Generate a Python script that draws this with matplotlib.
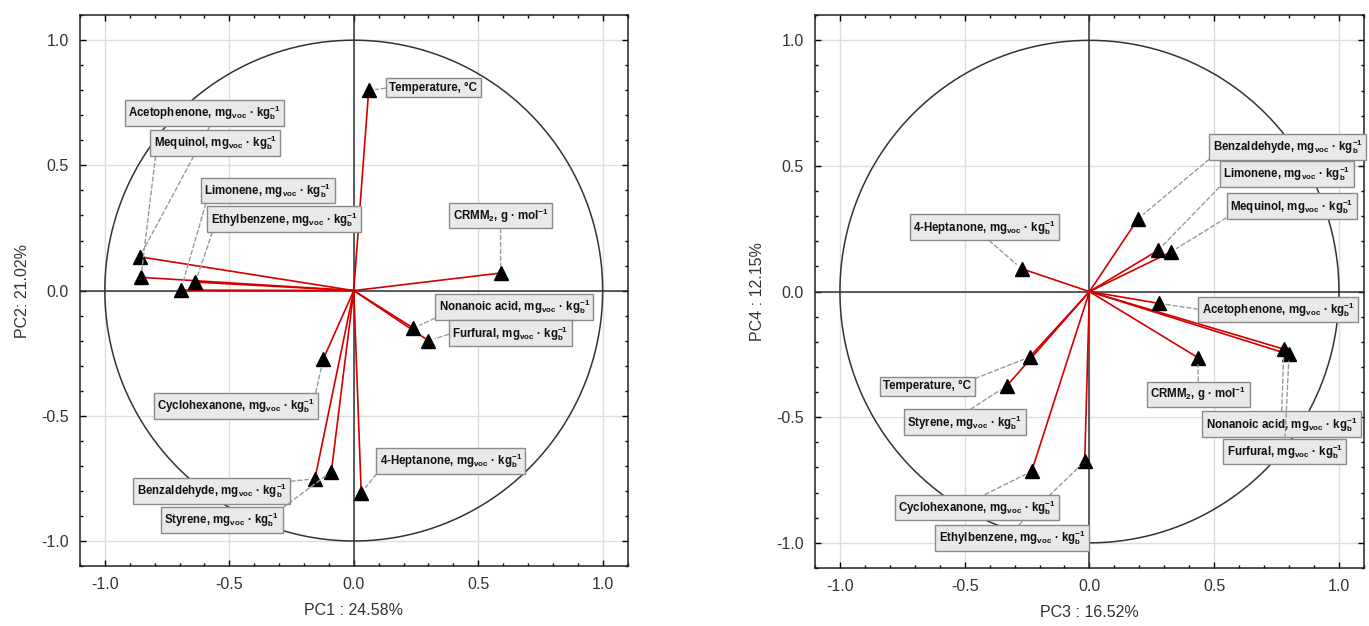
import matplotlib
matplotlib.use('Agg')

import matplotlib.pyplot as plt
import numpy as np
from matplotlib.ticker import MultipleLocator, FormatStrFormatter

plt.rcParams['font.family'] = ['Liberation Sans', 'DejaVu Sans']
plt.rcParams['mathtext.fontset'] = 'custom'
plt.rcParams['mathtext.rm'] = 'Liberation Sans:bold'
plt.rcParams['mathtext.bf'] = 'Liberation Sans:bold'
plt.rcParams['mathtext.default'] = 'bf'
plt.rcParams['axes.unicode_minus'] = False

VOC = r", mg$_{voc}$ · kg$_{b}^{-1}$"

# variable names
names = ["Temperature", "CRMM2", "Nonanoic acid", "Furfural", "Acetophenone",
         "Mequinol", "Limonene", "Ethylbenzene", "Cyclohexanone",
         "Benzaldehyde", "Styrene", "4-Heptanone"]

labels = {
    "Temperature": "Temperature, °C",
    "CRMM2": r"CRMM$_{2}$, g · mol$^{-1}$",
}
for n in names:
    if n not in labels:
        labels[n] = n + VOC

# loadings PC1 / PC2
pc1 = [0.06, 0.59, 0.24, 0.30, -0.86, -0.855, -0.695, -0.636, -0.123,
       -0.156, -0.09, 0.03]
pc2 = [0.80, 0.07, -0.15, -0.20, 0.135, 0.053, 0.002, 0.034, -0.275,
       -0.752, -0.723, -0.807]

# label positions, left panel
lab1_x = [0.32, 0.59, 0.645, 0.63, -0.60, -0.557, -0.345, -0.28, -0.473,
          -0.57, -0.53, 0.39]
lab1_y = [0.81, 0.30, -0.066, -0.17, 0.71, 0.589, 0.40, 0.285, -0.46,
          -0.80, -0.915, -0.68]
# where the leader leaves the label box
anchor1 = [(0, 0.5), (0.5, 0), (0, 0), (0, 0.5), (0.55, 0), (0.02, 0),
           (0.02, 0), (0.02, 0), (1, 1), (1, 1), (1, 1), (0, 0)]

# loadings PC3 / PC4
pc3 = [-0.239, 0.435, 0.779, 0.80, 0.279, 0.325, 0.275, -0.019, -0.232,
       0.195, -0.332, -0.272]
pc4 = [-0.26, -0.263, -0.229, -0.25, -0.047, 0.157, 0.164, -0.676, -0.716,
       0.29, -0.376, 0.091]

# label positions, right panel
lab2_x = [-0.65, 0.436, 0.77, 0.783, 0.756, 0.81, 0.79, -0.31, -0.45,
          0.795, -0.50, -0.42]
lab2_y = [-0.376, -0.408, -0.528, -0.636, -0.072, 0.34, 0.468, -0.98, -0.86,
          0.576, -0.52, 0.256]
anchor2 = [(1, 1), (0.5, 1), (0.5, 1), (0.5, 1), (0, 0.5), (0, 0),
           (0, 0), (0.52, 1), (0.5, 1), (0, 0), (0.5, 1), (0.5, 0)]


def draw_panel(ax, xs, ys, lx, ly, anchors, xlabel, ylabel):
    t = np.linspace(0, 2 * np.pi, 400)
    ax.plot(np.cos(t), np.sin(t), color='#333333', lw=1.1, zorder=2)
    ax.axhline(0, color='#333333', lw=1.1, zorder=2)
    ax.axvline(0, color='#333333', lw=1.1, zorder=2)

    for n, x, y, tx, ty, rp in zip(names, xs, ys, lx, ly, anchors):
        ax.plot([0, x], [0, y], color='#d40000', lw=1.2, zorder=3)
        ax.plot(x, y, marker='^', color='black', markersize=10, zorder=4)
        ax.annotate(labels[n], xy=(x, y), xytext=(tx, ty),
                    ha='center', va='center', fontsize=8.3, fontweight='bold',
                    color='#111111', zorder=5,
                    bbox=dict(boxstyle='square,pad=0.3', fc='#e9e9e9',
                              ec='#8a8a8a', lw=1.0),
                    arrowprops=dict(arrowstyle='-', linestyle=(0, (3, 2)),
                                    color='#999999', lw=1.0, relpos=rp,
                                    shrinkA=0, shrinkB=5))

    ax.set_xlim(-1.1, 1.1)
    ax.set_ylim(-1.1, 1.1)
    ax.xaxis.set_major_locator(MultipleLocator(0.5))
    ax.yaxis.set_major_locator(MultipleLocator(0.5))
    ax.xaxis.set_minor_locator(MultipleLocator(0.1))
    ax.yaxis.set_minor_locator(MultipleLocator(0.1))
    ax.grid(True, which='major', color='#dddddd', lw=1.0, zorder=0)
    ax.set_axisbelow(True)
    ax.tick_params(which='both', direction='in', top=True, right=True,
                   labelsize=11.5, labelcolor='#333333', pad=8)
    ax.tick_params(which='major', length=4, width=1)
    ax.tick_params(which='minor', length=2.5, width=1)
    ax.xaxis.set_major_formatter(FormatStrFormatter('%.1f'))
    ax.yaxis.set_major_formatter(FormatStrFormatter('%.1f'))
    for s in ax.spines.values():
        s.set_color('#222222')
        s.set_linewidth(1.1)
    ax.set_xlabel(xlabel, fontsize=11.5, color='#333333', labelpad=8)
    ax.set_ylabel(ylabel, fontsize=11.5, color='#333333', labelpad=8)


fig = plt.figure(figsize=(13.69, 6.26), dpi=100)
ax1 = fig.add_axes([0.0584, 0.0958, 0.400, 0.880])
ax2 = fig.add_axes([0.5953, 0.0927, 0.401, 0.883])

draw_panel(ax1, pc1, pc2, lab1_x, lab1_y, anchor1, "PC1 : 24.58%", "PC2: 21.02%")
draw_panel(ax2, pc3, pc4, lab2_x, lab2_y, anchor2, "PC3 : 16.52%", "PC4 : 12.15%")

fig.savefig("out.png", dpi=100)
plt.close(fig)
